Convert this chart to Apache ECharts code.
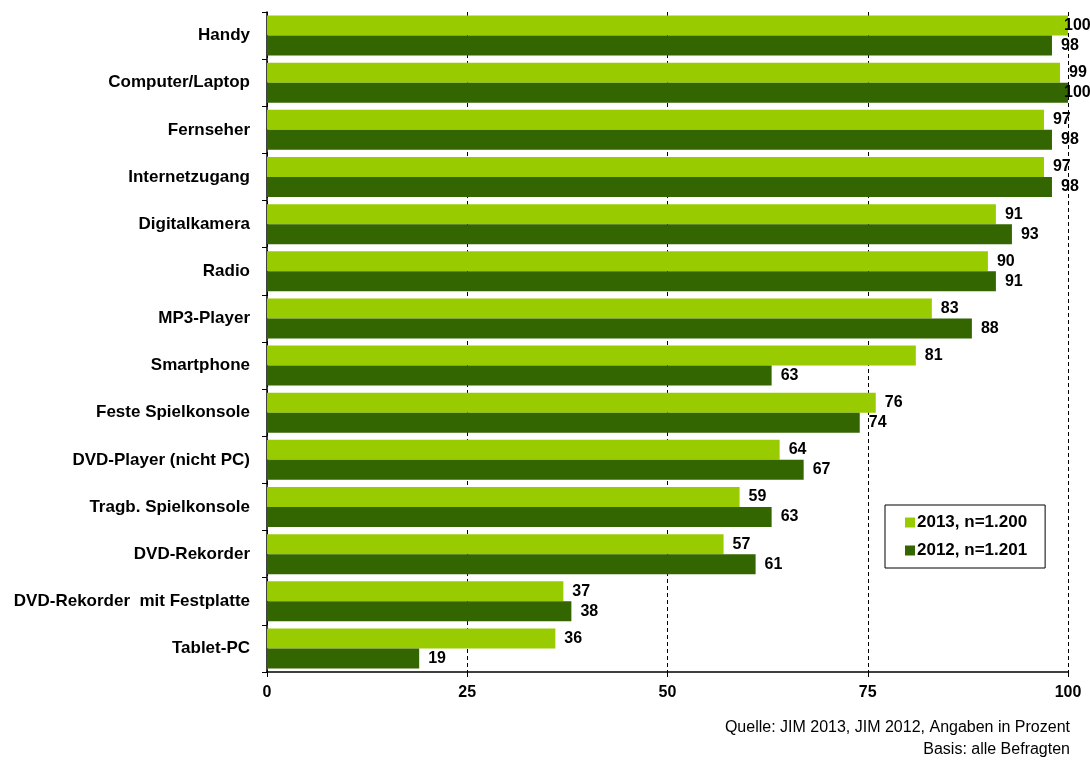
<!DOCTYPE html>
<html><head><meta charset="utf-8">
<script src="https://cdn.jsdelivr.net/npm/echarts@6/dist/echarts.min.js"></script>
<style>html,body{margin:0;padding:0;background:#fff}#c{width:1090px;height:760px}</style>
</head><body><div id="c"></div>
<script>
var categories = ["Handy","Computer/Laptop","Fernseher","Internetzugang","Digitalkamera","Radio","MP3-Player","Smartphone","Feste Spielkonsole","DVD-Player (nicht PC)","Tragb. Spielkonsole","DVD-Rekorder","DVD-Rekorder  mit Festplatte","Tablet-PC"];
var values2013 = [100,99,97,97,91,90,83,81,76,64,59,57,37,36];
var values2012 = [98,100,98,98,93,91,88,63,74,67,63,61,38,19];
var seriesNames = ["2013, n=1.200","2012, n=1.201"];
var xTicks = [0,25,50,75,100];
var sourceLines = ["Quelle: JIM 2013, JIM 2012, Angaben in Prozent","Basis: alle Befragten"];

var font = "'Liberation Sans', Arial, sans-serif";
var chart = echarts.init(document.getElementById('c'));
var labelStyle = {show:true, position:'right', distance:9, color:'#000', fontWeight:'bold', fontSize:16, fontFamily:font};
function toData(vals){
  return vals.map(function(v){
    return v >= 100 ? {value:v, label:{offset:[-13,0]}} : v;
  });
}
chart.setOption({
  animation:false,
  textStyle:{fontFamily:font},
  grid:{left:267, right:22, top:12, bottom:88, containLabel:false},
  xAxis:{type:'value', min:0, max:100, interval:25,
    axisLine:{show:true, lineStyle:{color:'#000', width:1.5}},
    axisTick:{show:true, length:5, lineStyle:{color:'#000'}},
    axisLabel:{color:'#000', fontWeight:'bold', fontSize:16, fontFamily:font, margin:13,
      formatter:function(v){return xTicks.indexOf(v)>=0 ? String(v) : '';}},
    splitLine:{show:true, lineStyle:{color:'#000', type:[4,3], width:1}}
  },
  yAxis:{type:'category', data:categories, inverse:true,
    axisLine:{show:true, lineStyle:{color:'#000', width:1.5}},
    axisTick:{show:true, length:5, lineStyle:{color:'#000'}},
    axisLabel:{color:'#000', fontWeight:'bold', fontSize:17, fontFamily:font, margin:17}
  },
  legend:{orient:'vertical', left:885, top:505,
    data:seriesNames, icon:'rect', itemWidth:10, itemHeight:10, itemGap:11,
    borderColor:'#000', borderWidth:1, padding:[9,18,9,20],
    textStyle:{color:'#000', fontWeight:'bold', fontSize:17, fontFamily:font, padding:[0,0,0,-3]}
  },
  graphic:[
    {type:'text', right:20, top:720, style:{text:sourceLines[0], fill:'#000', font:'16px '+font, textAlign:'right'}},
    {type:'text', right:20, top:742, style:{text:sourceLines[1], fill:'#000', font:'16px '+font, textAlign:'right'}}
  ],
  series:[
    {name:seriesNames[0], type:'bar', data:toData(values2013), barWidth:20, barGap:'0%',
      itemStyle:{color:'#99CC00'}, label:labelStyle},
    {name:seriesNames[1], type:'bar', data:toData(values2012), barWidth:20, barGap:'0%',
      itemStyle:{color:'#336600'}, label:labelStyle}
  ]
});
</script></body></html>
